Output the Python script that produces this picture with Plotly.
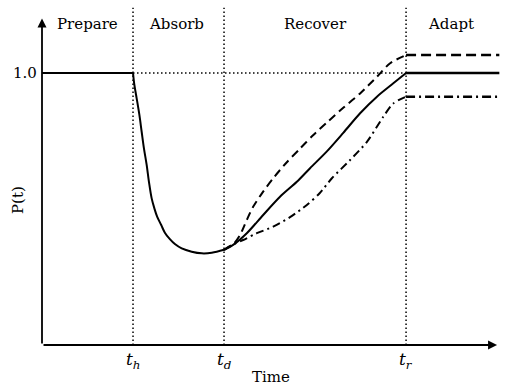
import plotly.graph_objects as go

# phase boundaries on the time axis
t_h, t_d, t_r = 2.0, 4.0, 8.0
phase_names = ["Prepare", "Absorb", "Recover", "Adapt"]
phase_centers = [0.99, 2.95, 6.02, 8.99]
tick_vals = [t_h, t_d, t_r]
tick_text = ["<i>t</i><sub><i>h</i></sub>", "<i>t</i><sub><i>d</i></sub>", "<i>t</i><sub><i>r</i></sub>"]

# baseline performance before the hazard
pre_time = [0.0, 2.0]
pre_p = [1.0, 1.0]

# absorb phase (solid drop)
drop_time = [2.0, 2.03, 2.08, 2.14, 2.19, 2.24, 2.30, 2.35, 2.41, 2.47, 2.53, 2.62,
             2.70, 2.81, 2.92, 3.07, 3.29, 3.51, 3.73, 4.0]
drop_p = [1.0, 0.956, 0.907, 0.846, 0.784, 0.723, 0.662, 0.600, 0.539, 0.502, 0.472, 0.441,
          0.413, 0.389, 0.371, 0.355, 0.343, 0.337, 0.339, 0.35]

# nominal recovery (solid)
rec_time = [4.0, 4.2, 4.5, 4.86, 5.23, 5.6, 5.89, 6.26, 6.62, 6.99, 7.36, 7.72, 8.0]
rec_p = [0.35, 0.368, 0.411, 0.478, 0.545, 0.600, 0.650, 0.712, 0.780, 0.852, 0.913, 0.962, 1.0]

# better recovery (dashed)
up_time = [4.0, 4.2, 4.35, 4.5, 4.64, 4.86, 5.08, 5.38, 5.67, 5.95, 6.26, 6.62, 6.99, 7.36, 7.65, 8.0]
up_p = [0.35, 0.37, 0.404, 0.46, 0.508, 0.564, 0.613, 0.672, 0.722, 0.770, 0.818, 0.872, 0.925, 0.986, 1.036, 1.066]

# worse recovery (dash-dot)
low_time = [4.0, 4.2, 4.42, 4.72, 5.08, 5.45, 5.82, 6.1, 6.37, 6.77, 7.14, 7.5, 7.72, 8.0]
low_p = [0.35, 0.37, 0.386, 0.411, 0.435, 0.470, 0.515, 0.558, 0.613, 0.680, 0.747, 0.839, 0.888, 0.913]

# adapted levels after t_r
post_time = [8.0, 10.05]
post_nominal = [1.0, 1.0]
post_up = [1.066, 1.066]
post_low = [0.913, 0.913]

FONT = "DejaVu Serif"
BLACK = "black"
Y_MAX = 1.25

fig = go.Figure()

fig.add_trace(go.Scatter(x=pre_time, y=pre_p, mode="lines", line=dict(color=BLACK, width=2)))
fig.add_trace(go.Scatter(x=drop_time, y=drop_p, mode="lines",
                         line=dict(color=BLACK, width=2, shape="spline", smoothing=1.0)))
fig.add_trace(go.Scatter(x=rec_time, y=rec_p, mode="lines",
                         line=dict(color=BLACK, width=2, shape="spline", smoothing=0.8)))
fig.add_trace(go.Scatter(x=up_time, y=up_p, mode="lines",
                         line=dict(color=BLACK, width=2, dash="8px,5px", shape="spline", smoothing=0.8)))
fig.add_trace(go.Scatter(x=low_time, y=low_p, mode="lines",
                         line=dict(color=BLACK, width=2, dash="8px,4px,2px,4px", shape="spline", smoothing=0.8)))
fig.add_trace(go.Scatter(x=post_time, y=post_nominal, mode="lines", line=dict(color=BLACK, width=2.5)))
fig.add_trace(go.Scatter(x=post_time, y=post_up, mode="lines",
                         line=dict(color=BLACK, width=2.5, dash="10px,5px")))
fig.add_trace(go.Scatter(x=post_time, y=post_low, mode="lines",
                         line=dict(color=BLACK, width=2.5, dash="9px,4px,2px,4px")))

# dotted guides
dot = dict(color=BLACK, width=1.5, dash="1.5px,2.5px")
for t in tick_vals:
    fig.add_shape(type="line", x0=t, x1=t, y0=0, y1=1.24, xref="x", yref="y", line=dot)
fig.add_shape(type="line", x0=t_h, x1=t_r, y0=1.0, y1=1.0, xref="x", yref="y", line=dot)

# axes drawn as arrows
for tip, tail in [((10.0, 0), (0, 0)), ((0, 1.2), (0, 0))]:
    fig.add_annotation(x=tip[0], y=tip[1], ax=tail[0], ay=tail[1], xref="x", yref="y",
                       axref="x", ayref="y", text="", showarrow=True,
                       arrowhead=2, arrowsize=1, arrowwidth=1.8, arrowcolor=BLACK)

text_font = dict(family=FONT, size=15, color=BLACK)
for name, cx in zip(phase_names, phase_centers):
    fig.add_annotation(x=cx, y=1.18, text=name, showarrow=False, font=text_font)

# labels below / left of the plot area use paper y so they are not hidden
for tv, tt in zip(tick_vals, tick_text):
    fig.add_annotation(x=tv, y=-0.008 / Y_MAX, yref="paper", yanchor="top", text=tt,
                       showarrow=False, font=dict(family=FONT, size=17, color=BLACK))

fig.add_annotation(x=0, y=1.0, text="1.0", showarrow=False, xanchor="right", xshift=-3, font=text_font)
fig.add_annotation(x=0, xref="paper", y=0.533 / Y_MAX, yref="paper", text="P(t)", showarrow=False,
                   xanchor="center", yanchor="middle", textangle=-90, xshift=-24, font=text_font)
fig.add_annotation(x=5.03, y=-0.118 / Y_MAX, yref="paper", yanchor="middle", text="Time",
                   showarrow=False, font=text_font)

fig.update_layout(
    width=518, height=388,
    margin=dict(l=42, r=10, t=5, b=43),
    plot_bgcolor="white", paper_bgcolor="white",
    showlegend=False,
    xaxis=dict(range=[0, 10.24], visible=False),
    yaxis=dict(range=[0, Y_MAX], visible=False),
)

fig.write_html("out.html", config={"displayModeBar": False},
               post_script="document.body.style.margin='0px';")
